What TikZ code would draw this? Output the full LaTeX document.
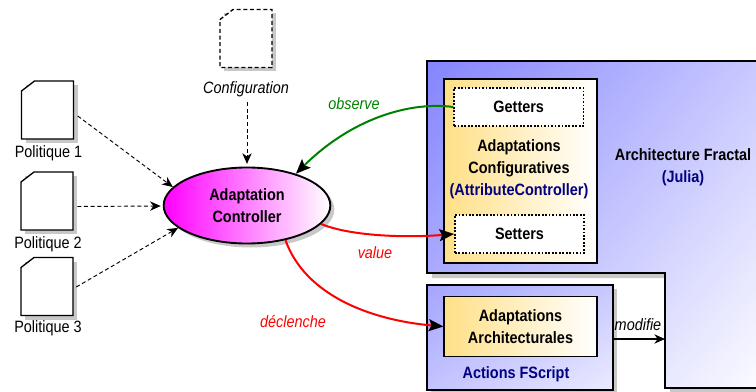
\documentclass[tikz,border=0pt]{standalone}
\usepackage{fontspec}
\setmainfont[FakeStretch=0.88]{Liberation Sans}
\usetikzlibrary{arrows.meta,shadows,shadings,shapes.geometric}
\definecolor{navytext}{RGB}{0,0,128}
\definecolor{greenline}{RGB}{0,128,0}
\definecolor{sand}{RGB}{255,224,135}
\definecolor{shadowgray}{RGB}{200,200,200}
\definecolor{archiul}{RGB}{132,132,255}
\definecolor{archiur}{RGB}{205,205,255}
\definecolor{archill}{RGB}{190,190,255}
\definecolor{actul}{RGB}{165,165,255}
\definecolor{actur}{RGB}{200,200,255}
\definecolor{actll}{RGB}{195,195,255}
\definecolor{actlr}{RGB}{235,235,255}
\tikzset{
	docshape/.pic={
		\fill[shadowgray] (-22,-25) rectangle (30,33);
		\fill[white] (-26,-19) -- (-13,-29) -- (26,-29) -- (26,29) -- (-26,29) -- cycle;
		\path[pic actions] (-26,-19) -- (-13,-29) -- (26,-29) -- (26,29) -- (-26,29) -- cycle;
	},
	boxshadow/.style={drop shadow={shadow xshift=3pt,shadow yshift=-3pt,fill=shadowgray,opacity=1}},
	edgetext/.style={font=\fontsize{12.3}{13}\selectfont\itshape,inner sep=0pt},
	boxtitle/.style={font=\fontsize{12.3}{16.5}\selectfont\bfseries,align=center,inner sep=0pt},
	sandbox/.style={draw,line width=1.1pt,inner sep=0pt,shade,left color=sand,right color=white},
	dotbox/.style={draw,dash pattern=on 1.3pt off 1.3pt,line width=1.1pt,fill=white,inner sep=0pt,minimum width=97pt,minimum height=28.5pt},
	flow/.style={densely dashed,line width=.7pt,-{Stealth[length=8pt,width=7pt,inset=2.5pt]}},
	curveline/.style={line width=1.5pt,-{Stealth[length=11pt,width=9pt,inset=2pt,color=black]}}
}
\begin{document}
\begin{tikzpicture}[x=.75pt,y=-.75pt]
	\useasboundingbox (0,0) rectangle (756,392);
	% documents
	\foreach \n/\x/\y/\ty in {1/47.5/110/153.5,2/47/201/244.5,3/47/286.5/328.5}
	{
		\pic[draw,line width=1pt] at (\x,\y) {docshape};
		\node[inner sep=0pt,minimum width=39pt,minimum height=44pt] (doc\n) at (\x,\y) {};
		\node[font=\fontsize{12.3}{13}\selectfont,inner sep=0pt] (name\n) at (\x+1,\ty) {Politique \n};
	}
	\pic[draw,densely dashed,line width=1pt] at (246,38.5) {docshape};
	\node[inner sep=0pt,minimum width=39pt,minimum height=44pt] (conf) at (246,38.5) {};
	\node[edgetext] (conftxt) at (246,89) {Configuration};

	% fractal architecture
	\fill[shadowgray] (432,66) -- (780,66) -- (780,393) -- (670,393) -- (670,278) -- (432,278) -- cycle;
	\shade[draw,line width=1.1pt,upper left=archiul,upper right=archiur,lower left=archill,lower right=white]
		(427,61) -- (780,61) -- (780,388) -- (665,388) -- (665,273) -- (427,273) -- cycle;
	\node[boxtitle] (archi) at (683,167) {Architecture Fractal\\\textcolor{navytext}{(Julia)}};
	\coordinate (archiin) at (665,339);

	\node[sandbox,minimum width=114.5pt,minimum height=138pt] (config) at (520.5,171) {};
	\node[dotbox] (getters) at (518.75,107) {};
	\node[dotbox] (setters) at (519.5,234) {};
	\node[boxtitle] at (getters) {Getters};
	\node[boxtitle] at (setters) {Setters};
	\node[boxtitle] (configtxt) at (519,169.5) {Adaptations\\Configuratives\\\textcolor{navytext}{(AttributeController)}};

	% actions
	\shade[boxshadow,draw,line width=1.1pt,upper left=actul,upper right=actur,lower left=actll,lower right=actlr]
		(427,285) rectangle (613,390);
	\node[sandbox,minimum width=114.5pt,minimum height=45pt,boxtitle] (archibox) at (520.5,326.5) {Adaptations\\Architecturales};
	\node[boxtitle] (actions) at (516,374) {\textcolor{navytext}{Actions FScript}};

	% controller
	\node[ellipse,draw,line width=1.4pt,boxshadow,shade,left color=magenta,right color=white,minimum width=125pt,minimum height=57pt,inner sep=0pt,boxtitle] (ctrl) at (247,205.5) {Adaptation\\Controller};

	% links
	\draw[flow] ([shift={(4,6)}]doc1.east) -- (ctrl.166);
	\draw[flow] ([shift={(4,5.5)}]doc2.east) -- ([shift={(-2,0.5)}]ctrl.west);
	\draw[flow] ([shift={(3,0.5)}]doc3.east) -- (ctrl.198);
	\draw[flow] (conftxt.south) ++(1,5) -- ([yshift=2pt]ctrl.north);
	\draw[curveline,greenline] (getters.west) .. controls (408,101) and (350,120) .. (ctrl.33);
	\draw[curveline,red] (ctrl.-14) .. controls (350,236) and (405,238) .. (setters.west);
	\draw[curveline,red] (ctrl.-42) .. controls (305,295) and (370,320) .. (archibox.west);
	\draw[line width=.8pt,-{Stealth[length=8pt,width=7pt,inset=2.5pt]}] (614,339) -- (archiin);

	\node[edgetext,text=greenline] (observe) at (354,104) {observe};
	\node[edgetext,text=red] (value) at (375,253) {value};
	\node[edgetext,text=red] (declenche) at (293,322) {déclenche};
	\node[edgetext] (modifie) at (638,325) {modifie};
\end{tikzpicture}
\end{document}
